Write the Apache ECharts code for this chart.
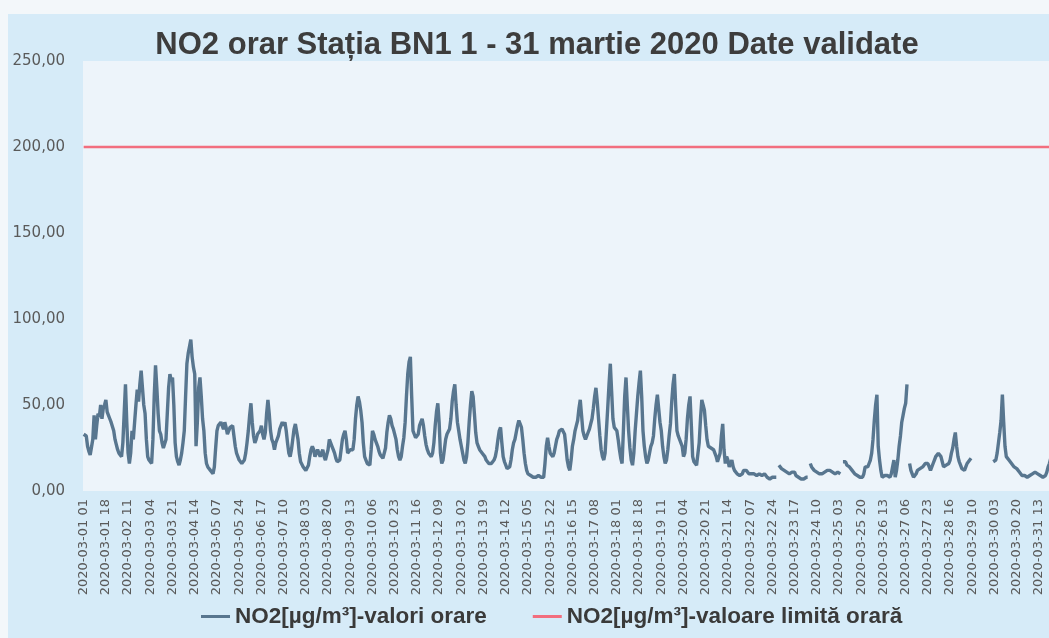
<!DOCTYPE html>
<html><head><meta charset="utf-8">
<script src="https://cdn.jsdelivr.net/npm/echarts@6/dist/echarts.min.js"></script>
<style>html,body{margin:0;padding:0;background:#f3f7fa;}#c{width:1049px;height:638px;}</style>
</head><body><div id="c"></div>
<script>
const titleText = 'NO2 orar Stația BN1 1 - 31 martie 2020 Date validate';
const seriesNames = ['NO2[µg/m³]-valori orare', 'NO2[µg/m³]-valoare limită orară'];
const limitValue = 200;
const yTickLabels = ['0,00', '50,00', '100,00', '150,00', '200,00', '250,00'];
const skippedHour = '2020-03-29 04'; // DST change, hour missing in the source

// hourly NO2 values (µg/m³), 1-31 March 2020
const no2Week1 = [33,33,
 32,26,23,21,20,30,44,30,38,45,43,50,42,48,50,53,46,44,42,40,39,35,30,27,
 24,22,21,20,28,45,62,40,22,16,22,35,30,40,50,59,52,62,70,60,50,45,30,20,
 18,17,16,30,55,73,60,45,35,33,28,25,24,30,45,60,68,64,66,50,28,20,17,15,
 18,22,28,35,55,74,80,84,88,78,72,68,26,40,60,66,55,42,35,22,16,14,13,12,
 11,10,14,25,35,38,37,40,38,36,40,37,33,35,37,36,38,32,26,22,20,18,17,16,
 16,18,22,28,35,44,51,40,32,28,30,33,32,35,38,33,30,34,45,53,45,35,30,28,
 24,28,28,32,36,38,40,38,40,35,28,22,20,24,30,36,39,38,30,22,17,16,14,13];
const no2Week2 = [
 12,12,15,20,24,26,24,20,22,24,22,20,22,24,20,18,18,24,30,28,26,24,22,19,
 17,16,18,24,30,33,35,30,22,22,24,23,24,30,42,50,55,52,47,40,28,20,18,16,
 15,15,24,35,33,30,28,26,23,21,20,19,18,25,34,40,44,42,38,36,35,30,24,20,
 18,20,26,31,40,55,68,75,78,55,35,33,31,30,33,38,40,42,38,32,27,24,22,21,
 20,22,28,38,46,51,40,22,16,18,24,30,33,32,36,42,52,58,62,50,40,35,30,26,
 22,18,16,20,28,40,50,58,55,45,34,28,26,24,23,22,21,20,18,17,16,15,16,17,
 18,20,24,30,35,37,28,20,17,15,13,12,14,18,24,28,30,34,38,41,39,37,30,22];
const no2Week3 = [
 16,12,10,9,9,8,8,8,8,9,9,8,8,8,8,16,26,31,26,22,21,20,22,26,
 30,32,35,35,36,37,33,26,18,14,12,18,26,30,35,38,41,48,53,44,35,32,30,32,
 34,36,39,42,48,55,60,52,42,32,24,20,18,22,35,48,62,74,58,42,37,36,35,30,
 24,19,16,35,55,66,50,35,25,18,15,22,35,45,55,63,70,55,35,26,20,16,18,22,
 26,28,32,42,50,56,48,40,35,26,20,16,18,24,32,39,52,62,68,50,35,32,30,30,
 26,20,22,30,42,50,55,38,20,17,16,15,15,28,42,53,50,47,38,30,26,27,25,24,
 24,23,20,17,16,22,32,39,24,16,20,18,14,16,18,14,12,11,10,9,9,8,10,12];
const no2Week4 = [
 13,12,11,10,10,10,9,10,10,9,9,10,9,9,9,10,9,8,8,7,8,8,8,8,
 8,null,15,14,13,12,12,12,11,10,10,10,11,12,11,9,8,8,8,7,7,7,7,8,
 8,null,16,14,13,12,12,11,11,10,10,10,11,11,11,12,12,12,12,11,10,10,10,11,
 10,10,null,17,18,17,15,14,14,13,12,11,10,10,9,9,8,8,8,10,14,14,14,16,
 18,22,30,41,50,56,26,18,12,8,8,9,10,9,8,8,10,14,18,8,12,18,26,32,
 40,44,48,51,62,null,16,12,10,8,9,10,12,13,13,14,14,15,16,16,16,14,12,14,
 16,18,20,21,22,22,20,17,14,14,15,16,16,18,22,25,30,34,26,20,17,15,13,12];
const no2Week5 = [
 12,14,16,17,18,19,null,null,null,null,null,null,null,null,null,null,null,null,null,null,null,null,17,17,
 18,22,28,34,41,56,40,26,20,19,18,17,16,15,14,13,13,12,11,10,9,9,9,9,
 8,8,9,10,10,11,11,10,10,9,9,8,8,8,9,11,14,16,19,21,20];

const no2Values = [].concat(no2Week1, no2Week2, no2Week3, no2Week4, no2Week5);

const categories = [];
for (let d = 1; d <= 31; d++) {
  for (let h = 1; h <= 24; h++) {
    const lab = '2020-03-' + String(d).padStart(2, '0') + ' ' + String(h).padStart(2, '0');
    if (lab !== skippedHour) categories.push(lab);
  }
}
const limitData = [[categories[0], limitValue], [categories[categories.length - 1], limitValue]];

const chart = echarts.init(document.getElementById('c'), null, {renderer: 'canvas'});
chart.setOption({
  animation: false,
  backgroundColor: 'transparent',
  graphic: [{type: 'rect', z: -10, silent: true, shape: {x: 8, y: 14, width: 1041, height: 624}, style: {fill: '#d6ebf8'}}],
  title: {
    text: titleText, left: 532, top: 25, textAlign: 'center',
    textStyle: {fontFamily: 'Liberation Sans', fontSize: 31, fontWeight: 'bold', color: '#3d3d3d'}
  },
  legend: {
    data: seriesNames, left: 196, top: 600, icon: 'rect', itemWidth: 29, itemHeight: 3, itemGap: 46,
    textStyle: {fontFamily: 'Liberation Sans', fontSize: 22.5, fontWeight: 'bold', color: '#3a3a3a'}
  },
  grid: {left: 83, right: -5, top: 61, bottom: 147, show: true, backgroundColor: '#edf4fa', borderWidth: 0, outerBoundsMode: 'none'},
  xAxis: {
    type: 'category', data: categories, boundaryGap: true,
    axisLine: {show: false}, axisTick: {show: false}, splitLine: {show: false},
    axisLabel: {interval: 16, rotate: 90, margin: 8, fontFamily: 'DejaVu Sans', fontSize: 13, color: '#5a5a5a'}
  },
  yAxis: {
    type: 'value', min: 0, max: 250, interval: 50,
    axisLine: {show: false}, axisTick: {show: false}, splitLine: {show: false},
    axisLabel: {formatter: v => yTickLabels[Math.round(v / 50)], margin: 18, fontFamily: 'DejaVu Sans', fontSize: 15, color: '#5a5a5a'}
  },
  series: [
    {name: seriesNames[0], type: 'line', data: no2Values, symbol: 'none', connectNulls: false,
     lineStyle: {color: '#58768f', width: 3.4}, itemStyle: {color: '#58768f'}},
    {name: seriesNames[1], type: 'line', data: limitData, symbol: 'none',
     lineStyle: {color: '#f26e7e', width: 2.5}, itemStyle: {color: '#f26e7e'}}
  ]
});
</script></body></html>
